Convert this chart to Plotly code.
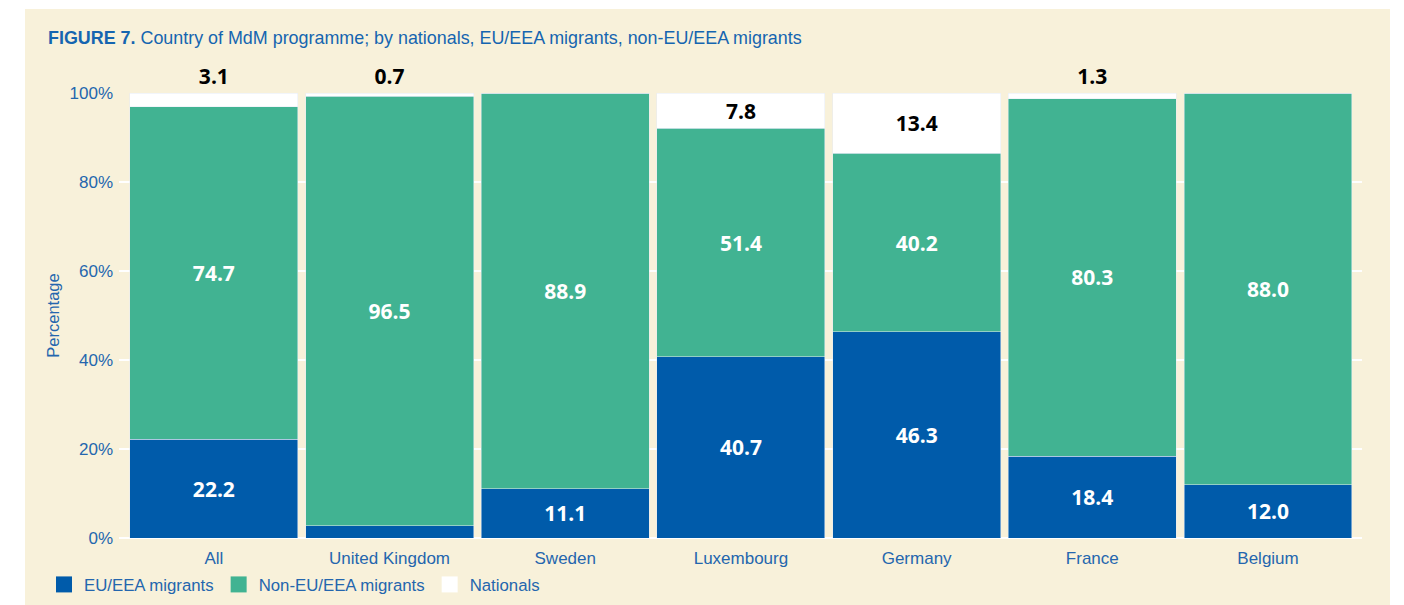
import plotly.graph_objects as go

categories = ["All", "United Kingdom", "Sweden", "Luxembourg", "Germany", "France", "Belgium"]
eu_eea = [22.2, 2.8, 11.1, 40.7, 46.3, 18.4, 12.0]
non_eu_eea = [74.7, 96.5, 88.9, 51.4, 40.2, 80.3, 88.0]
nationals = [3.1, 0.7, 0.0, 7.8, 13.4, 1.3, 0.0]

eu_labels = ["22.2", "", "11.1", "40.7", "46.3", "18.4", "12.0"]
non_eu_labels = ["74.7", "96.5", "88.9", "51.4", "40.2", "80.3", "88.0"]
nat_labels = ["3.1", "0.7", "", "7.8", "13.4", "1.3", ""]
nat_textpos = ["outside", "outside", "none", "inside", "inside", "outside", "none"]

BLUE = "#005BAA"
GREEN = "#41B392"
BEIGE = "#F8F1DA"
TEXT_BLUE = "#2466AE"
LABEL_FONT = "Open Sans"

# the page adds an 8px body margin, so the figure is 8px smaller than the window
W, H = 1396, 597
ML, MR, MT, MB = 111, 42, 85, 67
PW = W - ML - MR
PH = H - MT - MB

fig = go.Figure()
fig.add_trace(go.Bar(
    x=categories, y=eu_eea, name="EU/EEA migrants", marker_color=BLUE,
    text=eu_labels, textposition="inside", insidetextanchor="middle",
    textfont=dict(family=LABEL_FONT, size=21, color="white", weight="bold"),
    showlegend=False, hoverinfo="skip"))
fig.add_trace(go.Bar(
    x=categories, y=non_eu_eea, name="Non-EU/EEA migrants", marker_color=GREEN,
    text=non_eu_labels, textposition="inside", insidetextanchor="middle",
    textfont=dict(family=LABEL_FONT, size=21, color="white", weight="bold"),
    showlegend=False, hoverinfo="skip"))
fig.add_trace(go.Bar(
    x=categories, y=nationals, name="Nationals", marker_color="white",
    text=nat_labels, textposition=nat_textpos, insidetextanchor="middle",
    textfont=dict(family=LABEL_FONT, size=21, color="black", weight="bold"),
    constraintext="none", cliponaxis=False,
    showlegend=False, hoverinfo="skip"))

for nm, col in [("EU/EEA migrants", BLUE), ("Non-EU/EEA migrants", GREEN), ("Nationals", "white")]:
    fig.add_trace(go.Scatter(
        x=[None], y=[None], mode="markers", name=nm,
        marker=dict(symbol="square", size=22, color=col, line=dict(width=0))))

fig.update_layout(
    width=W, height=H,
    barmode="stack", bargap=0.044,
    paper_bgcolor="white", plot_bgcolor="rgba(0,0,0,0)",
    margin=dict(l=ML, r=MR, t=MT, b=MB, autoexpand=False),
    font=dict(family="Liberation Sans, Arial, sans-serif", color=TEXT_BLUE, size=17),
    title=dict(
        text="<b>FIGURE 7.</b> Country of MdM programme; by nationals, EU/EEA migrants, non-EU/EEA migrants",
        font=dict(family="Liberation Sans, Arial, sans-serif", size=17.9, color="#1565B0"),
        xref="container", x=40 / W, xanchor="left",
        yref="container", y=1 - 30 / H, yanchor="middle"),
    legend=dict(
        orientation="h", traceorder="normal", xref="container", yref="container",
        x=36 / W, xanchor="left", y=1 - 576.5 / H, yanchor="middle",
        font=dict(size=16.8, color=TEXT_BLUE), bgcolor="rgba(0,0,0,0)",
        itemsizing="trace", itemwidth=30),
    shapes=[dict(type="rect", xref="paper", yref="paper",
                 x0=(17 - ML) / PW, x1=(1382 - ML) / PW,
                 y0=-MB / PH, y1=(PH + MT - 1) / PH,
                 fillcolor=BEIGE, line=dict(width=0), layer="below")],
)
fig.update_xaxes(range=[-0.54, 6.535], showgrid=False, zeroline=False, showline=False,
                 ticks="", ticklabelstandoff=8, tickfont=dict(size=17, color=TEXT_BLUE))
fig.update_yaxes(range=[0, 100], tickvals=[0, 20, 40, 60, 80, 100],
                 ticktext=["0%", "20%", "40%", "60%", "80%", "100%"],
                 showgrid=True, gridcolor="white", gridwidth=2,
                 zeroline=True, zerolinecolor="white", zerolinewidth=2,
                 showline=False, ticks="", ticklabelstandoff=5,
                 tickfont=dict(size=17, color=TEXT_BLUE),
                 title=dict(text="Percentage", font=dict(size=16.5, color=TEXT_BLUE), standoff=5))

fig.write_html("out.html")
